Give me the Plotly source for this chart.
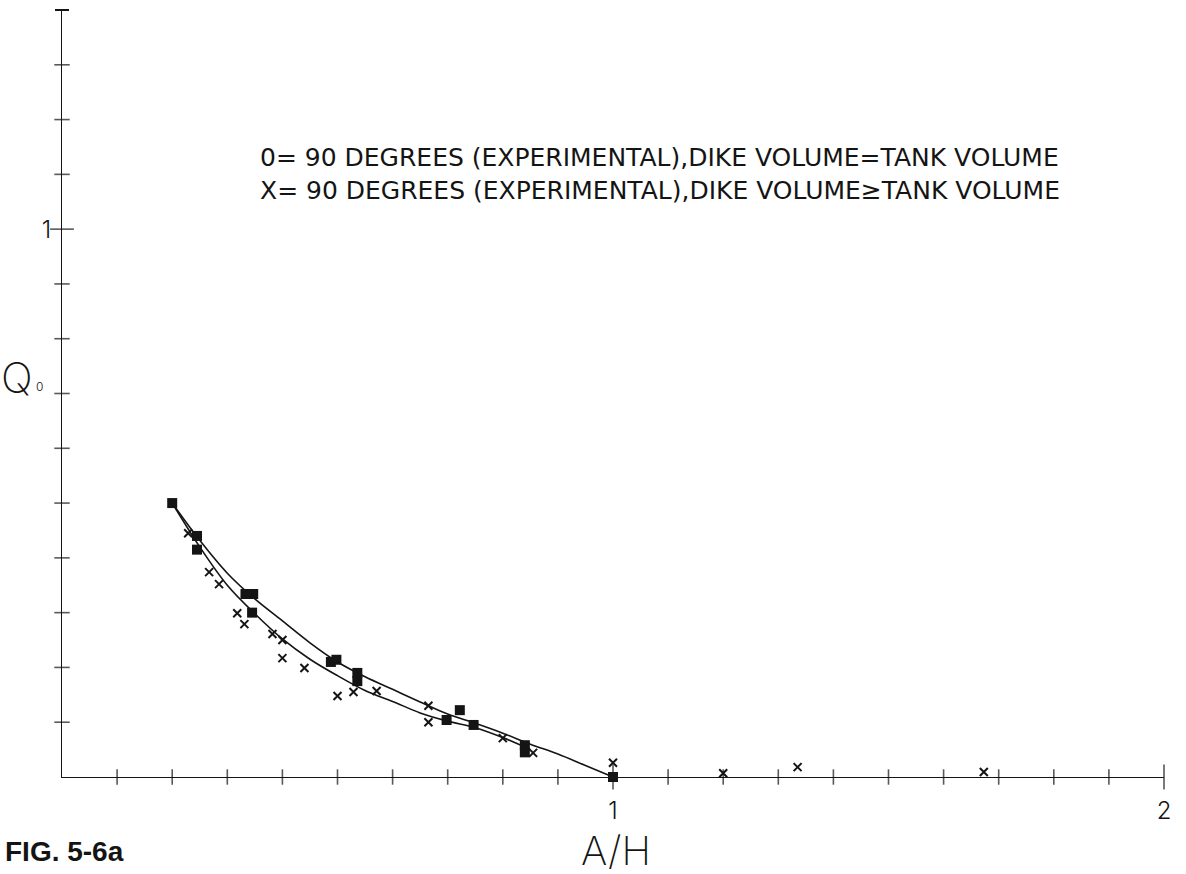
import plotly.graph_objects as go

# Smoothed fit curves (A/H vs Q0)
curve_eq_x = [0.20, 0.25, 0.30, 0.35, 0.40, 0.45, 0.50, 0.55, 0.60, 0.65, 0.70, 0.75, 0.80, 0.85, 0.90, 0.95, 1.00]
curve_eq_y = [0.500, 0.432, 0.372, 0.325, 0.285, 0.245, 0.210, 0.183, 0.160, 0.137, 0.115, 0.098, 0.080, 0.060, 0.042, 0.021, 0.000]

curve_ge_x = [0.20, 0.25, 0.30, 0.35, 0.40, 0.45, 0.50, 0.55, 0.60, 0.65, 0.70, 0.75, 0.80, 0.85]
curve_ge_y = [0.500, 0.420, 0.350, 0.298, 0.252, 0.215, 0.185, 0.158, 0.138, 0.117, 0.102, 0.090, 0.072, 0.050]

# Experimental points: dike volume = tank volume (filled squares)
eq_x = [0.20, 0.245, 0.245, 0.333, 0.347, 0.345, 0.488, 0.498, 0.536, 0.536, 0.698, 0.722, 0.747, 0.840, 0.840, 1.00]
eq_y = [0.500, 0.440, 0.415, 0.334, 0.334, 0.300, 0.210, 0.214, 0.190, 0.175, 0.104, 0.122, 0.095, 0.058, 0.045, 0.000]

# Experimental points: dike volume >= tank volume (crosses)
ge_x = [0.229, 0.267, 0.285, 0.318, 0.331, 0.382, 0.400, 0.400, 0.440, 0.500, 0.529, 0.571,
        0.665, 0.665, 0.800, 0.855, 1.000, 1.200, 1.335, 1.673, 2.007]
ge_y = [0.445, 0.374, 0.352, 0.299, 0.279, 0.261, 0.250, 0.217, 0.199, 0.148, 0.155, 0.157,
        0.130, 0.100, 0.071, 0.044, 0.026, 0.007, 0.018, 0.009, 0.038]

# Axis ticks every 0.1
x_ticks = [round(0.1 * i, 1) for i in range(1, 21)]
y_ticks = [round(0.1 * i, 1) for i in range(1, 14)]
x_labels = {1: "1", 2: "2"}
y_labels = {1: "1"}

# Key text
key_lines = [
    "0= 90 DEGREES (EXPERIMENTAL),DIKE VOLUME=TANK VOLUME",
    "X= 90 DEGREES (EXPERIMENTAL),DIKE VOLUME\u2265TANK VOLUME",
]

INK = "#141414"
PLOT_FONT = "Inter"

fig = go.Figure()

# crossing tick marks along both axes
fig.add_trace(go.Scatter(
    x=x_ticks, y=[0] * len(x_ticks), mode="markers", cliponaxis=False, hoverinfo="skip",
    marker=dict(symbol="line-ns", size=[18 if t in (1.0, 2.0) else 11 for t in x_ticks],
                line=dict(color=INK, width=1.6)),
))
fig.add_trace(go.Scatter(
    x=[0] * len(y_ticks), y=y_ticks, mode="markers", cliponaxis=False, hoverinfo="skip",
    marker=dict(symbol="line-ew", size=[17 if t == 1.0 else 11 for t in y_ticks],
                line=dict(color=INK, width=1.6)),
))
# cap at the top of the vertical axis
fig.add_trace(go.Scatter(
    x=[0], y=[1.4], mode="markers", cliponaxis=False, hoverinfo="skip",
    marker=dict(symbol="line-ew", size=10, line=dict(color=INK, width=2)),
))

# fitted curves
fig.add_trace(go.Scatter(x=curve_eq_x, y=curve_eq_y, mode="lines",
                         line=dict(color=INK, width=1.6, shape="spline")))
fig.add_trace(go.Scatter(x=curve_ge_x, y=curve_ge_y, mode="lines",
                         line=dict(color=INK, width=1.6, shape="spline")))

# data points
fig.add_trace(go.Scatter(x=eq_x, y=eq_y, mode="markers", cliponaxis=False,
                         marker=dict(symbol="square", size=10, color=INK)))
fig.add_trace(go.Scatter(x=ge_x, y=ge_y, mode="markers", cliponaxis=False,
                         marker=dict(symbol="x-thin", size=8, line=dict(color=INK, width=2))))

fig.update_xaxes(
    range=[0, 2], showgrid=False, zeroline=False, showline=True, linecolor=INK, linewidth=1.2,
    tickvals=list(x_labels.keys()), ticktext=list(x_labels.values()), ticks="",
    ticklabelstandoff=12, tickfont=dict(family=PLOT_FONT, size=24, color=INK, weight=300),
)
fig.update_yaxes(
    range=[0, 1.4], showgrid=False, zeroline=False, showline=True, linecolor=INK, linewidth=1.2,
    tickvals=list(y_labels.keys()), ticktext=list(y_labels.values()), ticks="",
    ticklabelstandoff=5, tickfont=dict(family=PLOT_FONT, size=24, color=INK, weight=300),
)

annotations = [
    dict(text="A/H", xref="x", x=1.005, yref="paper", y=0, yshift=-73,
         xanchor="center", yanchor="middle", showarrow=False,
         font=dict(family=PLOT_FONT, size=40, color=INK, weight=200)),
    dict(text="Q", xref="paper", x=-0.041, yref="y", y=0.73,
         xanchor="center", yanchor="middle", showarrow=False,
         font=dict(family=PLOT_FONT, size=42, color=INK, weight=200)),
    dict(text="0", xref="paper", x=-0.02, yref="y", y=0.712,
         xanchor="center", yanchor="middle", showarrow=False,
         font=dict(family=PLOT_FONT, size=12, color=INK, weight=300)),
    dict(text="FIG. 5-6a", xref="paper", x=-0.0535, yref="paper", y=0, yshift=-74,
         xanchor="left", yanchor="middle", showarrow=False,
         font=dict(family="Liberation Sans", size=28, color=INK, weight="bold")),
    dict(text="<br>".join(key_lines),
         xref="paper", x=0.178, yref="y", y=1.100, align="left",
         xanchor="left", yanchor="middle", showarrow=False,
         font=dict(family="DejaVu Sans", size=25, color=INK)),
]

fig.update_layout(
    width=1186, height=874,
    margin=dict(l=62, r=22, t=10, b=97),
    paper_bgcolor="white", plot_bgcolor="white",
    showlegend=False, annotations=annotations,
)

fig.write_html("out.html")
